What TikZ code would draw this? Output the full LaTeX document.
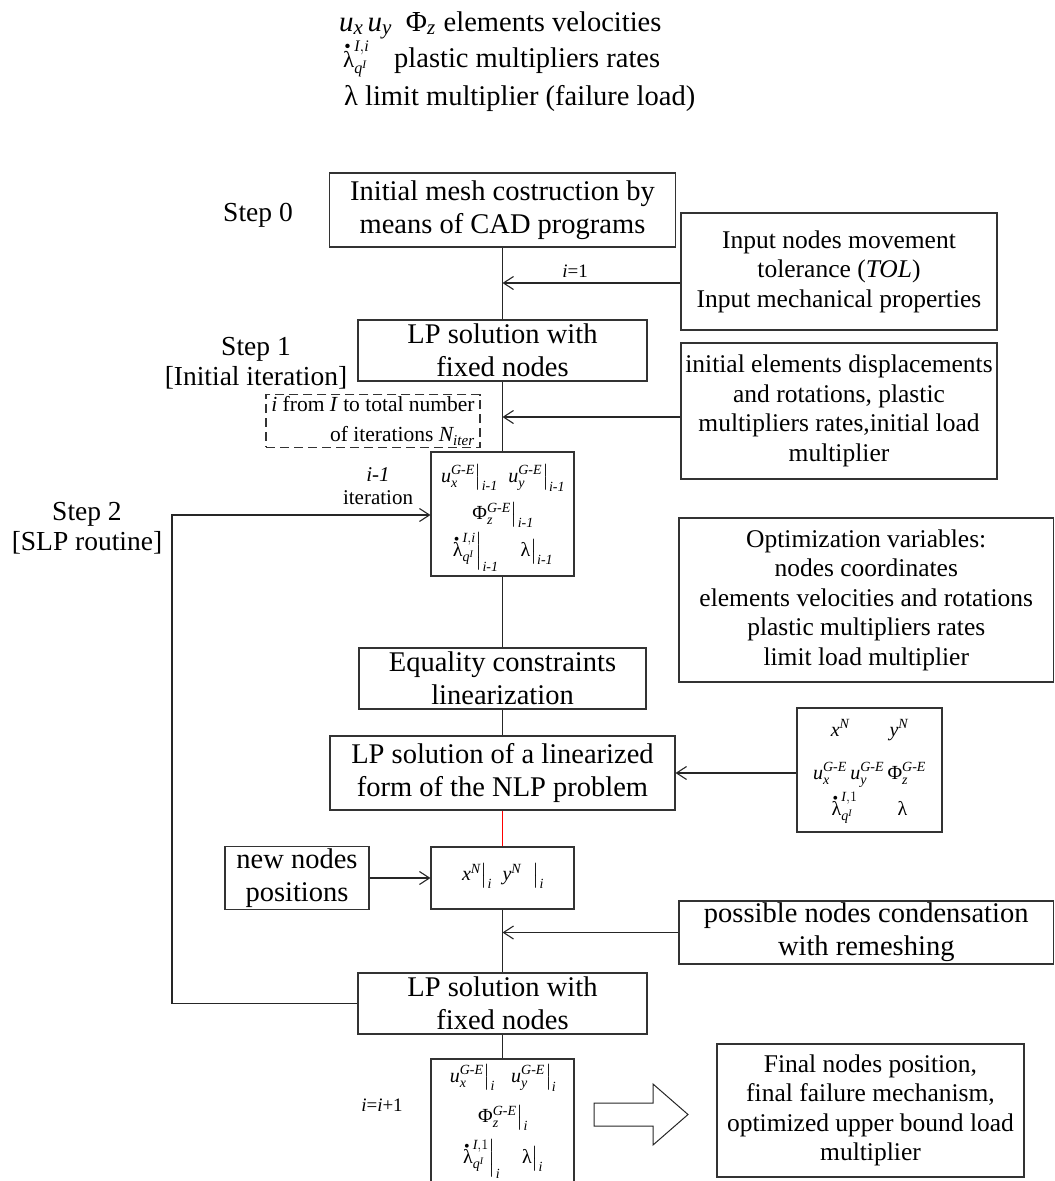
\documentclass[tikz,border=0pt]{standalone}
\usepackage{amsmath}
\usepackage{fontspec}
\setmainfont{Liberation Serif}
\usetikzlibrary{arrows.meta}
\newcommand\tx[1]{\text{\itshape #1}}
\newcommand\tu[1]{\text{\upshape #1}}
\newcommand\lsub[1]{\text{\fontsize{21}{21}\selectfont\itshape #1}}
\newcommand\dotlam{\text{\upshape\makebox[0pt][l]{\raisebox{0.62em}{\hspace{0.05em}\scalebox{0.8}{•}}}λ}}
\newcommand\lamrate[1]{\dotlam^{#1}_{\tx{q}^{\tx{I}}}}
\newcommand\fbig{\fontsize{28.5}{33}\selectfont}
\newcommand\fmid{\fontsize{25.5}{29.5}\selectfont}
\newcommand\fmat{\fontsize{20}{24}\selectfont}
\newcommand\fstep{\fontsize{27.5}{30}\selectfont}
\begin{document}
\begin{tikzpicture}[x=1pt,y=-1pt,
  box/.style={draw=black!80,line width=1.1pt,inner sep=2pt,align=center,font=\fbig},
  mat/.style={font=\fmat,inner sep=0pt},
  ln/.style={line width=1.1pt,draw=black!85},
  arr/.style={ln,-{Straight Barb[length=10pt,width=13pt]}},
  lab/.style={inner sep=0pt}]
\useasboundingbox (0,0) rectangle (1055,1181);

% legend
\node[lab,font=\fontsize{29}{33}\selectfont,anchor=base west] (lg1) at (339,31) {$\tx{u}_{\lsub{x}}\,\tx{u}_{\lsub{y}}\;\;\tu{Φ}_{\lsub{z}}$\;\fbig elements velocities};
\node[lab,font=\fontsize{23}{25}\selectfont,anchor=base west] (lg2a) at (343,67) {$\lamrate{\tx{I}, \tx{i}}$};
\node[lab,font=\fbig,anchor=base west] (lg2) at (394,67) {plastic multipliers rates};
\node[lab,font=\fbig,anchor=base west] (lg3) at (344,105) {λ limit multiplier (failure load)};

% step labels
\node[font=\fstep,align=center] (s0) at (258,215) {Step 0};
\node[font=\fstep,align=center] (s1) at (256,363) {Step 1\\{[}Initial iteration{]}};
\node[font=\fstep,align=center] (s2) at (87,528) {Step 2\\{[}SLP routine{]}};

% main boxes
\node[box,minimum width=346pt,minimum height=74pt] (b0) at (502.5,210) {Initial mesh costruction by\\means of CAD programs};
\node[box,minimum width=289pt,minimum height=61pt] (b1) at (502.5,350.5) {LP solution with\\fixed nodes};
\node[box,font=\fmid,minimum width=316pt,minimum height=117pt] (r1) at (839,271.5) {Input nodes movement\\tolerance (\textit{TOL})\\Input mechanical properties};
\node[box,font=\fmid,minimum width=316pt,minimum height=136pt] (r2) at (839,411) {initial elements displacements\\and rotations, plastic\\multipliers rates,initial load\\multiplier};
\node[box,dash pattern=on 9pt off 5pt,font=\fontsize{21.5}{30}\selectfont,align=right,minimum width=214pt,minimum height=52pt] (db) at (373,421) {\textit{i} from \textit{I} to total number\\of iterations $\tx{N}_{\tx{iter}}$};
\node[box,minimum width=143pt,minimum height=124pt] (m1) at (502.5,514) {};
\node[box,font=\fmid,minimum width=374.5pt,minimum height=164pt] (opt) at (866.25,600) {Optimization variables:\\nodes coordinates\\elements velocities and rotations\\plastic multipliers rates\\limit load multiplier};
\node[box,minimum width=287pt,minimum height=61pt] (eq) at (502.5,678.5) {Equality constraints\\linearization};
\node[box,minimum width=345pt,minimum height=74pt] (lp) at (502.5,773) {LP solution of a linearized\\form of the NLP problem};
\node[box,minimum width=145pt,minimum height=124pt] (rm) at (869.5,770) {};
\node[box,minimum width=144pt,minimum height=62pt] (nn) at (297,878) {new nodes\\positions};
\node[box,minimum width=143pt,minimum height=62pt] (m2) at (502.5,878) {};
\node[box,minimum width=374.5pt,minimum height=61pt] (pc) at (866.25,932.5) {possible nodes condensation\\with remeshing};
\node[box,minimum width=289pt,minimum height=61pt] (lf) at (502.5,1003.5) {LP solution with\\fixed nodes};
\node[box,minimum width=143pt,minimum height=145pt] (m3) at (502.5,1131.5) {};
\node[box,font=\fmid,minimum width=307pt,minimum height=133pt] (fin) at (870.5,1110.5) {Final nodes position,\\final failure mechanism,\\optimized upper bound load\\multiplier};

% matrix contents
\node[mat] (m1a) at (502.5,478) {$\left.\tx{u}^{\tx{G-E}}_{\tx{x}}\right|_{\tx{i-1}}\;\left.\tx{u}^{\tx{G-E}}_{\tx{y}}\right|_{\tx{i-1}}$};
\node[mat] (m1b) at (502.5,515) {$\left.\tu{Φ}^{\tx{G-E}}_{\tx{z}}\right|_{\tx{i-1}}$};
\node[mat] (m1c) at (502.5,552) {$\left.\lamrate{\tx{I}, \tx{i}}\right|_{\tx{i-1}}\;\;\;\left.\vphantom{\tx{u}^{\tx{G-E}}_{\tx{x}}}\tu{λ}\right|_{\tx{i-1}}$};
\node[mat] (rma) at (869.5,730) {$\tx{x}^{\tx{N}}\qquad\tx{y}^{\tx{N}}$};
\node[mat] (rmb) at (869.5,775) {$\tx{u}^{\tx{G-E}}_{\tx{x}}\,\tx{u}^{\tx{G-E}}_{\tx{y}}\,\tu{Φ}^{\tx{G-E}}_{\tx{z}}$};
\node[mat] (rmc) at (869.5,808) {$\lamrate{\tx{I}, 1}\qquad\tu{λ}$};
\node[mat] (m2a) at (502.5,876) {$\left.\vphantom{\tx{u}^{\tx{G-E}}_{\tx{x}}}\tx{x}^{\tx{N}}\right|_{\tx{i}}\;\left.\vphantom{\tx{u}^{\tx{G-E}}_{\tx{x}}}\tx{y}^{\tx{N}}\;\;\right|_{\tx{i}}$};
\node[mat] (m3a) at (502.5,1078) {$\left.\tx{u}^{\tx{G-E}}_{\tx{x}}\right|_{\tx{i}}\;\;\left.\tx{u}^{\tx{G-E}}_{\tx{y}}\right|_{\tx{i}}$};
\node[mat] (m3b) at (502.5,1118) {$\left.\tu{Φ}^{\tx{G-E}}_{\tx{z}}\right|_{\tx{i}}$};
\node[mat] (m3c) at (502.5,1159) {$\left.\lamrate{\tx{I}, 1}\right|_{\tx{i}}\;\;\;\left.\vphantom{\tx{u}^{\tx{G-E}}_{\tx{x}}}\tu{λ}\right|_{\tx{i}}$};

% small labels
\node[font=\fontsize{21}{23}\selectfont,align=center] (it) at (378,486) {\textit{i-1}\\iteration};
\node[font=\fontsize{19}{22}\selectfont] (i1) at (575,271) {\textit{i}=1};
\node[font=\fontsize{19}{22}\selectfont] (ii) at (382,1105) {\textit{i}=\textit{i}+1};

% connectors
\coordinate (j1) at (502.5,283);
\coordinate (j2) at (502.5,417);
\coordinate (j3) at (502.5,932.5);
\coordinate (lc) at (172,515);
\draw[ln] (b0.south) -- (b1.north);
\draw[arr] (r1.west |- j1) -- (j1);
\draw[ln] (b1.south) -- (m1.north);
\draw[arr] (r2.west |- j2) -- (j2);
\draw[ln] (m1.south) -- (eq.north);
\draw[ln] (eq.south) -- (lp.north);
\draw[arr] (rm.west |- lp.east) -- (lp.east);
\draw[line width=1pt,red] (lp.south) -- (m2.north);
\draw[arr] (nn.east) -- (m2.west);
\draw[ln] (m2.south) -- (lf.north);
\draw[arr] (pc.west) -- (j3);
\draw[ln] (lf.south) -- (m3.north);
\draw[arr] (lf.west) -| (lc) -- (lc -| m1.west);

% big hollow arrow
\draw[line width=1pt,draw=black!85] (594,1103) -- (653,1103) -- (653,1084) -- (688,1114.5) -- (653,1145) -- (653,1126) -- (594,1126) -- cycle;
\end{tikzpicture}
\end{document}
